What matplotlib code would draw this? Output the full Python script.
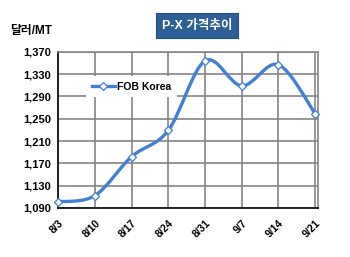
import matplotlib
matplotlib.use("Agg")
import matplotlib.pyplot as plt
from matplotlib.path import Path
from matplotlib.patches import PathPatch
from matplotlib.lines import Line2D

plt.rcParams["font.family"] = ["Liberation Sans", "Noto Sans CJK KR", "DejaVu Sans"]

# ── data ──
dates = ["8/3", "8/10", "8/17", "8/24", "8/31", "9/7", "9/14", "9/21"]
fob_korea = [1101, 1112, 1182, 1229, 1354, 1309, 1347, 1259]
y_ticks = [1090, 1130, 1170, 1210, 1250, 1290, 1330, 1370]

LINE_BLUE = "#4380D3"
GRID = "#858585"


def smooth_path(xs, ys, t=0.5):
    """Excel-like smooth line as cubic Bezier path (Catmull-Rom control points)."""
    verts = [(xs[0], ys[0])]
    codes = [Path.MOVETO]
    n = len(xs)
    for i in range(n - 1):
        x0, y0 = (xs[i - 1], ys[i - 1]) if i > 0 else (xs[i], ys[i])
        x1, y1 = xs[i], ys[i]
        x2, y2 = xs[i + 1], ys[i + 1]
        x3, y3 = (xs[i + 2], ys[i + 2]) if i + 2 < n else (x2, y2)
        c1 = (x1 + (x2 - x0) * t / 3, y1 + (y2 - y0) * t / 3)
        c2 = (x2 - (x3 - x1) * t / 3, y2 - (y3 - y1) * t / 3)
        verts += [c1, c2, (x2, y2)]
        codes += [Path.CURVE4] * 3
    return Path(verts, codes)


fig = plt.figure(figsize=(3.5, 2.57), dpi=100)
fig.patch.set_facecolor("white")
ax = fig.add_axes([0.166, 0.191, 0.743, 0.607])

xs = list(range(len(dates)))
ax.add_patch(PathPatch(smooth_path(xs, fob_korea), facecolor="none",
                       edgecolor=LINE_BLUE, linewidth=2.4, capstyle="round",
                       zorder=3))
ax.plot(xs, fob_korea, linestyle="none", marker="D", markersize=4.5,
        markerfacecolor="white", markeredgecolor=LINE_BLUE,
        markeredgewidth=0.9, zorder=4, clip_on=False)

ax.set_xlim(0, 7.08)
ax.set_ylim(1090, 1370)
ax.set_yticks(y_ticks)
ax.set_yticklabels([f"{v:,}" for v in y_ticks], fontsize=8, fontweight="bold")
ax.set_xticks(xs)
ax.set_xticklabels(dates, fontsize=7.5, fontweight="bold", rotation=45,
                   ha="right", va="top", rotation_mode="anchor")
ax.tick_params(axis="y", length=0, pad=5)
ax.tick_params(axis="x", length=0, pad=7)

ax.grid(True, color=GRID, linewidth=1.2)
ax.set_axisbelow(True)
for side in ("top", "right"):
    ax.spines[side].set_color(GRID)
    ax.spines[side].set_linewidth(1.2)
for side in ("left", "bottom"):
    ax.spines[side].set_color("#202020")
    ax.spines[side].set_linewidth(1.4)

handle = Line2D([], [], color=LINE_BLUE, linewidth=2.4, marker="D",
                markersize=4, markerfacecolor="white",
                markeredgecolor=LINE_BLUE, markeredgewidth=0.9)
leg = ax.legend([handle], ["FOB Korea"], loc="upper left",
                bbox_to_anchor=(0.1, 0.86), frameon=True, fancybox=False,
                edgecolor="white", facecolor="white", framealpha=1,
                handlelength=2.2, handletextpad=0.2, borderpad=0.55,
                borderaxespad=0.2, prop={"weight": "bold", "size": 7.5})
leg.get_frame().set_linewidth(0)

fig.text(0.09, 0.88, "달러/MT", fontsize=8.5, fontweight="bold",
         ha="center", va="center")
fig.text(0.563, 0.90, "P-X 가격추이", fontsize=9, fontweight="bold",
         color="white", ha="center", va="center",
         bbox=dict(boxstyle="square,pad=0.5", facecolor="#2F5F97",
                   edgecolor="#1F4F87", linewidth=0.8))

fig.savefig("out.png", dpi=100)
